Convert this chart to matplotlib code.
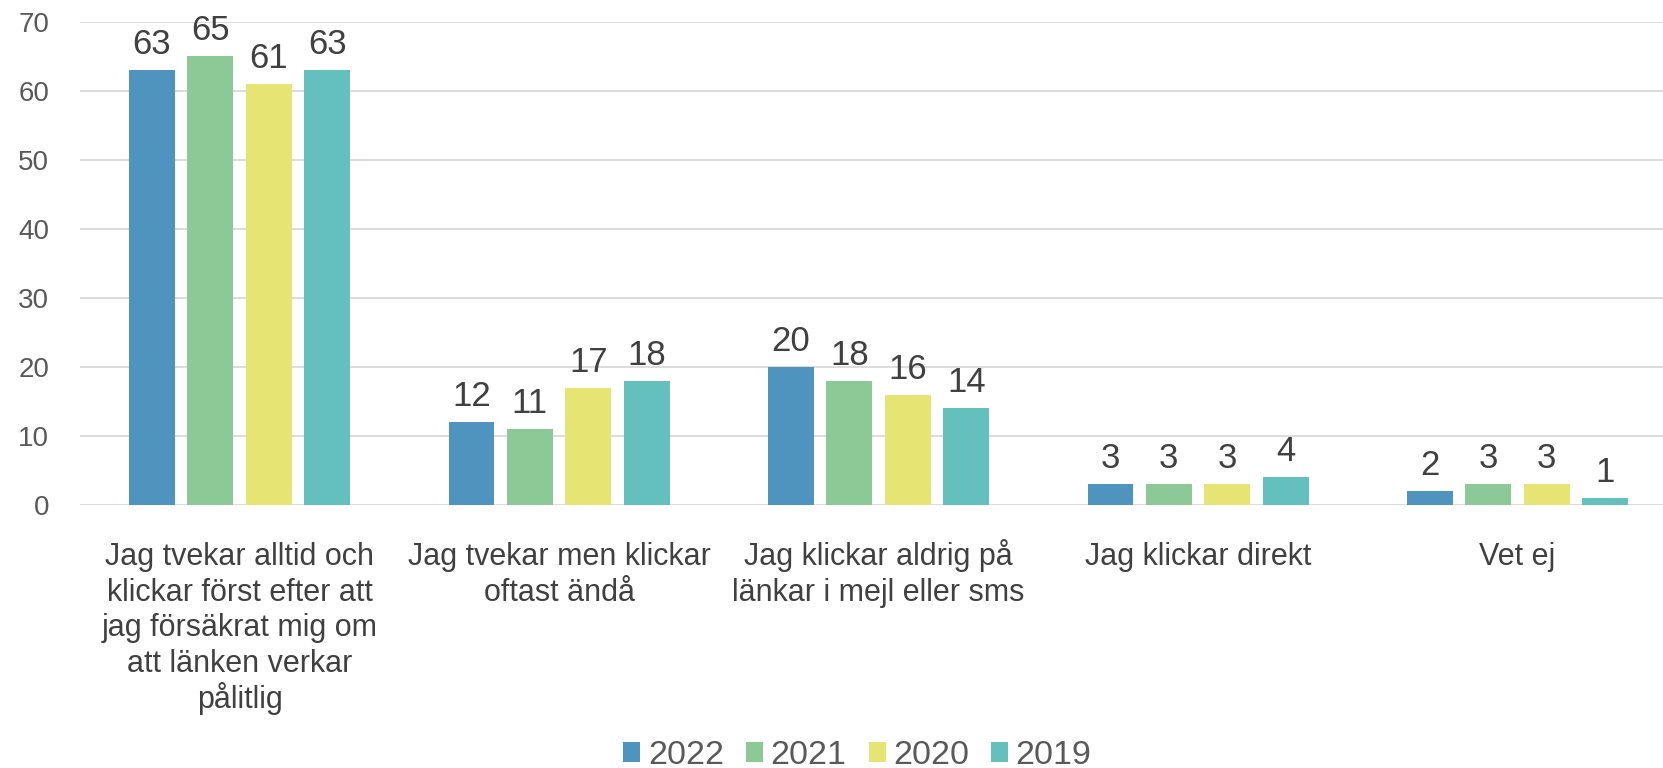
import matplotlib.pyplot as plt
import numpy as np

categories = [
    "Jag tvekar alltid och\nklickar först efter att\njag försäkrat mig om\natt länken verkar\npålitlig",
    "Jag tvekar men klickar\noftast ändå",
    "Jag klickar aldrig på\nlänkar i mejl eller sms",
    "Jag klickar direkt",
    "Vet ej",
]
years = ["2022", "2021", "2020", "2019"]
values_2022 = [63, 12, 20, 3, 2]
values_2021 = [65, 11, 18, 3, 3]
values_2020 = [61, 17, 16, 3, 3]
values_2019 = [63, 18, 14, 4, 1]
colors = ["#4E94BE", "#8DC897", "#E6E473", "#64C0BC"]

plt.rcParams['font.family'] = ['Liberation Sans', 'DejaVu Sans']

fig = plt.figure(figsize=(16.63, 7.68), dpi=100)
ax = fig.add_axes([0.048, 0.3424, 0.9606, 0.6290])

x = np.arange(len(categories))
width = 0.143
step = 0.183
series = [values_2022, values_2021, values_2020, values_2019]
for i, (year, vals) in enumerate(zip(years, series)):
    pos = x + (i - 1.5) * step
    bars = ax.bar(pos, vals, width, color=colors[i], label=year, zorder=3)
    for b, v in zip(bars, vals):
        ax.annotate(str(v), (b.get_x() + b.get_width() / 2, v),
                    xytext=(0, 6.5), textcoords="offset points",
                    ha="center", va="bottom", fontsize=25, color="#404040")

ax.set_xlim(-0.5, len(categories) - 0.5)
ax.set_ylim(0, 70)
ax.set_yticks(range(0, 71, 10))
ax.yaxis.grid(True, color="#D9D9D9", linewidth=1.3, zorder=0)
ax.set_xticks(x)
ax.set_xticklabels([])
ax.tick_params(axis="y", length=0, pad=22, labelsize=20, labelcolor="#595959")
ax.tick_params(axis="x", length=0)
for s in ax.spines.values():
    s.set_visible(False)

# category labels, one line at a time so every first line sits on the same baseline
for xi, cat in zip(x, categories):
    for k, line in enumerate(cat.split("\n")):
        ax.annotate(line, (xi, 0), xycoords=("data", "axes fraction"),
                    xytext=(0, -43 - k * 25.8), textcoords="offset points",
                    ha="center", va="baseline", fontsize=22, color="#404040",
                    annotation_clip=False)

fig.legend(loc="center", bbox_to_anchor=(0.5156, 0.016), ncol=4, frameon=False,
           fontsize=24.5, handlelength=0.5, handleheight=0.5, handletextpad=0.22,
           columnspacing=0.65, labelcolor="#595959")

fig.savefig("out.png", dpi=100)
